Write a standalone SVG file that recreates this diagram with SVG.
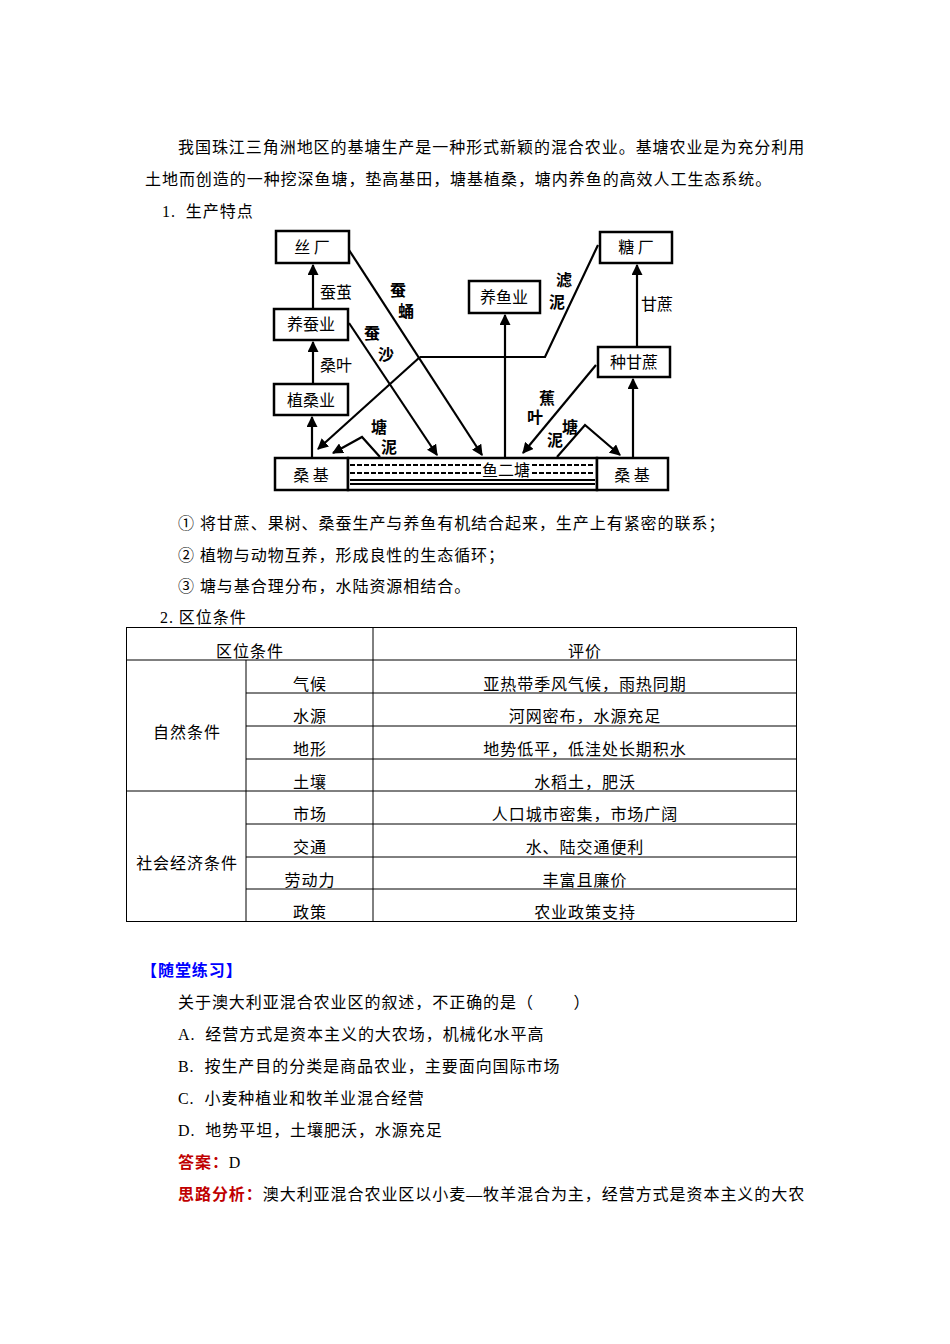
<svg xmlns="http://www.w3.org/2000/svg" width="950" height="1344" viewBox="0 0 950 1344">
<defs>
<style>
text{font-family:"Liberation Serif","Noto Sans CJK SC",serif;font-size:16px;letter-spacing:0.95px;fill:#000;white-space:pre}
.d text{font-family:"Noto Sans CJK SC",sans-serif;font-size:16px;letter-spacing:0}
.bx{fill:#fff;stroke:#000;stroke-width:2.5}
.ln{stroke:#000;stroke-width:2.2;fill:none}
.t line{stroke:#000;stroke-width:1}
.red{fill:#c00000;font-weight:bold}
.blue{fill:#0000ff;font-weight:bold}
</style>
<marker id="a" viewBox="0 0 10 10" refX="9" refY="5" markerWidth="5" markerHeight="5" orient="auto"><path d="M0,0 L10,5 L0,10 z" fill="#000"/></marker>
</defs>
<rect width="950" height="1344" fill="#fff"/>
<text x="178" y="153">我国珠江三角洲地区的基塘生产是一种形式新颖的混合农业。基塘农业是为充分利用</text>
<text x="145" y="185">土地而创造的一种挖深鱼塘，垫高基田，塘基植桑，塘内养鱼的高效人工生态系统。</text>
<text x="162" y="217">1.  生产特点</text>
<g class="d">
<g id="n1"><rect class="bx" x="276" y="231" width="73" height="32"/><text x="312" y="253" text-anchor="middle">丝 厂</text></g>
<g id="n2"><rect class="bx" x="274" y="309" width="74" height="31"/><text x="311" y="330" text-anchor="middle">养蚕业</text></g>
<g id="n3"><rect class="bx" x="274" y="384" width="74" height="31"/><text x="311" y="406" text-anchor="middle" font-size="18">植桑业</text></g>
<g id="n4"><rect class="bx" x="275" y="458" width="73" height="32"/><text x="311" y="481" text-anchor="middle" font-size="18">桑 基</text></g>
<g id="n5"><rect class="bx" x="348" y="458" width="249" height="32"/>
<line class="ln" x1="350" y1="465" x2="595" y2="465" stroke-dasharray="5,2" stroke-width="1.5"/>
<line class="ln" x1="350" y1="473" x2="595" y2="473" stroke-dasharray="5,2" stroke-width="1.5"/>
<line class="ln" x1="350" y1="480" x2="595" y2="480" stroke-width="1.5"/>
<line class="ln" x1="350" y1="484" x2="595" y2="484" stroke-width="1.5"/>
<rect x="482" y="462" width="48" height="16" fill="#fff"/>
<text x="506" y="476" text-anchor="middle" font-size="14">鱼二塘</text></g>
<g id="n6"><rect class="bx" x="597" y="458" width="71" height="32"/><text x="632" y="481" text-anchor="middle" font-size="18">桑 基</text></g>
<g id="n7"><rect class="bx" x="469" y="281" width="71" height="32"/><text x="504" y="303" text-anchor="middle">养鱼业</text></g>
<g id="n8"><rect class="bx" x="600" y="232" width="72" height="31"/><text x="636" y="253" text-anchor="middle">糖 厂</text></g>
<g id="n9"><rect class="bx" x="598" y="347" width="72" height="30"/><text x="634" y="368" text-anchor="middle">种甘蔗</text></g>
<g id="connectors">
<line class="ln" x1="313" y1="309" x2="313" y2="265" marker-end="url(#a)"/>
<line class="ln" x1="313" y1="384" x2="313" y2="342" marker-end="url(#a)"/>
<line class="ln" x1="312" y1="458" x2="312" y2="417" marker-end="url(#a)"/>
<line class="ln" x1="349" y1="250" x2="482" y2="455" marker-end="url(#a)"/>
<line class="ln" x1="349" y1="323" x2="437" y2="455" marker-end="url(#a)"/>
<polyline class="ln" points="598,245 545,357 420,357"/>
<line class="ln" x1="420" y1="357" x2="318" y2="449" marker-end="url(#a)"/>
<polyline class="ln" points="380,457 362,437 333,453" marker-end="url(#a)"/>
<line class="ln" x1="505" y1="458" x2="505" y2="315" marker-end="url(#a)"/>
<line class="ln" x1="596" y1="365" x2="523" y2="453" marker-end="url(#a)"/>
<polyline class="ln" points="557,457 585,425 620,455" marker-end="url(#a)"/>
<line class="ln" x1="633" y1="458" x2="633" y2="379" marker-end="url(#a)"/>
<line class="ln" x1="637" y1="347" x2="637" y2="265" marker-end="url(#a)"/>
</g>
<text x="336" y="298" text-anchor="middle">蚕茧</text>
<text x="336" y="371" text-anchor="middle">桑叶</text>
<text x="398" y="296" text-anchor="middle" font-weight="bold">蚕</text>
<text x="406" y="317" text-anchor="middle" font-weight="bold">蛹</text>
<text x="372" y="339" text-anchor="middle" font-weight="bold">蚕</text>
<text x="386" y="360" text-anchor="middle" font-weight="bold">沙</text>
<text x="379" y="433" text-anchor="middle" font-weight="bold">塘</text>
<text x="389" y="453" text-anchor="middle" font-weight="bold">泥</text>
<text x="564" y="286" text-anchor="middle" font-weight="bold">滤</text>
<text x="557" y="308" text-anchor="middle" font-weight="bold">泥</text>
<text x="657" y="310" text-anchor="middle">甘蔗</text>
<text x="547" y="404" text-anchor="middle" font-weight="bold">蕉</text>
<text x="535" y="423" text-anchor="middle" font-weight="bold">叶</text>
<text x="570" y="433" text-anchor="middle" font-weight="bold">塘</text>
<text x="555" y="446" text-anchor="middle" font-weight="bold">泥</text>
</g>
<text x="178" y="529">① 将甘蔗、果树、桑蚕生产与养鱼有机结合起来，生产上有紧密的联系；</text>
<text x="178" y="561">② 植物与动物互养，形成良性的生态循环；</text>
<text x="178" y="592">③ 塘与基合理分布，水陆资源相结合。</text>
<text x="160" y="623">2. 区位条件</text>
<g id="table" class="t">
<rect x="126.5" y="627.5" width="670" height="294" fill="none" stroke="#000"/>
<line x1="126" y1="660" x2="797" y2="660"/>
<line x1="246" y1="693" x2="797" y2="693"/>
<line x1="246" y1="726" x2="797" y2="726"/>
<line x1="246" y1="759" x2="797" y2="759"/>
<line x1="126" y1="791" x2="797" y2="791"/>
<line x1="246" y1="824" x2="797" y2="824"/>
<line x1="246" y1="857" x2="797" y2="857"/>
<line x1="246" y1="889" x2="797" y2="889"/>
<line x1="373" y1="627" x2="373" y2="922"/>
<line x1="246" y1="660" x2="246" y2="922"/>
</g>
<g text-anchor="middle" style="letter-spacing:0.3px">
<text x="250" y="657">区位条件</text><text x="585" y="657">评价</text>
<text x="187" y="738">自然条件</text><text x="187" y="869">社会经济条件</text>
<text x="310" y="690">气候</text><text x="585" y="690">亚热带季风气候，雨热同期</text>
<text x="310" y="722">水源</text><text x="585" y="722">河网密布，水源充足</text>
<text x="310" y="755">地形</text><text x="585" y="755">地势低平，低洼处长期积水</text>
<text x="310" y="788">土壤</text><text x="585" y="788">水稻土，肥沃</text>
<text x="310" y="820">市场</text><text x="585" y="820">人口城市密集，市场广阔</text>
<text x="310" y="853">交通</text><text x="585" y="853">水、陆交通便利</text>
<text x="310" y="886">劳动力</text><text x="585" y="886">丰富且廉价</text>
<text x="310" y="918">政策</text><text x="585" y="918">农业政策支持</text>
</g>
<text x="141" y="976" class="blue">【随堂练习】</text>
<text x="178" y="1008">关于澳大利亚混合农业区的叙述，不正确的是（        ）</text>
<text x="178" y="1040">A.  经营方式是资本主义的大农场，机械化水平高</text>
<text x="178" y="1072">B.  按生产目的分类是商品农业，主要面向国际市场</text>
<text x="178" y="1104">C.  小麦种植业和牧羊业混合经营</text>
<text x="178" y="1136">D.  地势平坦，土壤肥沃，水源充足</text>
<text x="178" y="1168"><tspan class="red">答案：</tspan>D</text>
<text x="178" y="1200"><tspan class="red">思路分析：</tspan>澳大利亚混合农业区以小麦—牧羊混合为主，经营方式是资本主义的大农</text>
</svg>
